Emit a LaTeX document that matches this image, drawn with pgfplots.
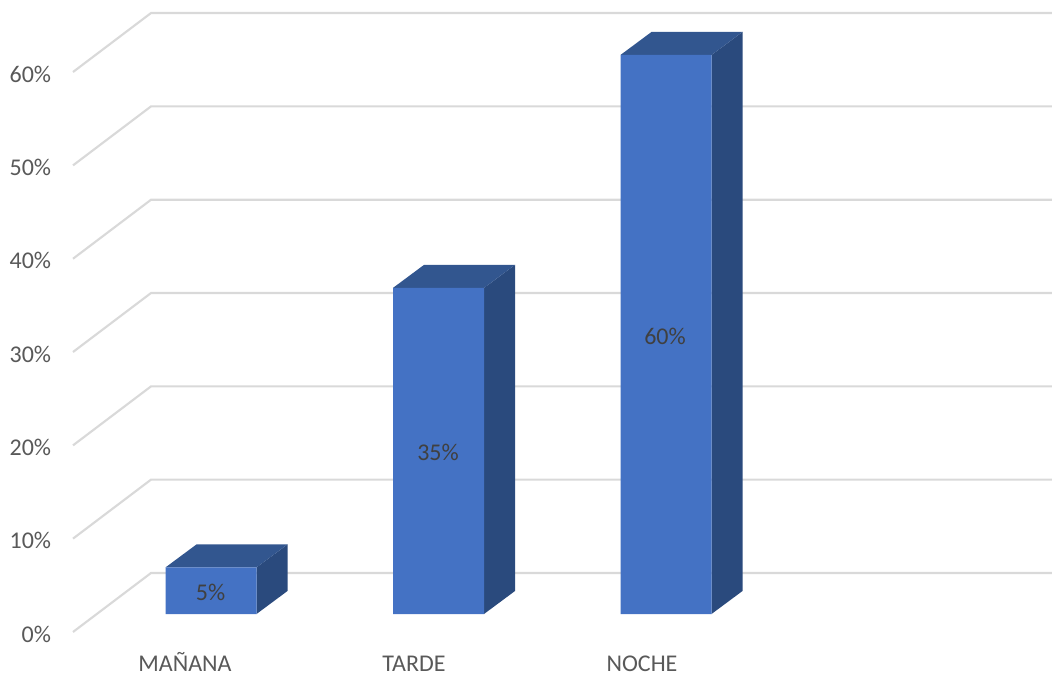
\documentclass[border=0pt]{standalone}
\usepackage{pgfplots}
\pgfplotsset{compat=1.18}
\usepackage{fontspec}
\setmainfont{Carlito}
\definecolor{gridc}{HTML}{D9D9D9}
\definecolor{frontc}{HTML}{4472C4}
\definecolor{topc}{HTML}{32568F}
\definecolor{sidec}{HTML}{2A4A7D}
\definecolor{tickc}{HTML}{595959}
\definecolor{valc}{HTML}{404040}
\begin{document}
\begin{tikzpicture}
\useasboundingbox (0,0) rectangle (789pt,507pt);
\begin{axis}[
	at={(45pt,23.25pt)}, anchor=south west,
	scale only axis,
	width=744pt, height=483.75pt,
	xmin=60, xmax=1052,
	ymin=-3.327, ymax=65.9,
	axis line style={draw=none},
	major tick length=0pt,
	xtick={185,414,642},
	xticklabels={MAÑANA,TARDE,NOCHE},
	ytick={-1.93,8.09,18.1,28.12,38.13,48.15,58.17},
	yticklabels={0\%,10\%,20\%,30\%,40\%,50\%,60\%},
	tick label style={font=\fontsize{18}{20}\selectfont, text=tickc},
	yticklabel style={anchor=east, inner sep=0pt, xshift=-6.5pt, yshift=-1.5pt},
	xticklabel style={anchor=base, inner sep=0pt, yshift=-19.5pt},
	/pgf/number format/assume math mode=true,
]
% walls
\addplot[gridc, line width=1.6pt, forget plot] coordinates {(73,-1.93) (151,4.40) (1052,4.40)};
\addplot[gridc, line width=1.6pt, forget plot] coordinates {(73,8.09) (151,14.42) (1052,14.42)};
\addplot[gridc, line width=1.6pt, forget plot] coordinates {(73,18.1) (151,24.43) (1052,24.43)};
\addplot[gridc, line width=1.6pt, forget plot] coordinates {(73,28.12) (151,34.45) (1052,34.45)};
\addplot[gridc, line width=1.6pt, forget plot] coordinates {(73,38.13) (151,44.46) (1052,44.46)};
\addplot[gridc, line width=1.6pt, forget plot] coordinates {(73,48.15) (151,54.48) (1052,54.48)};
\addplot[gridc, line width=1.6pt, forget plot] coordinates {(73,58.17) (151,64.5) (1052,64.5)};
% side faces
\addplot[fill=sidec, draw=none] coordinates {(256.5,0) (287.5,2.47) (287.5,7.47) (256.5,5)} --cycle;
\addplot[fill=sidec, draw=none] coordinates {(484,0) (515,2.47) (515,37.47) (484,35)} --cycle;
\addplot[fill=sidec, draw=none] coordinates {(711.5,0) (742.5,2.47) (742.5,62.47) (711.5,60)} --cycle;
% top faces
\addplot[fill=topc, draw=none] coordinates {(165.5,5) (196.5,7.47) (287.5,7.47) (256.5,5)} --cycle;
\addplot[fill=topc, draw=none] coordinates {(393,35) (424,37.47) (515,37.47) (484,35)} --cycle;
\addplot[fill=topc, draw=none] coordinates {(620.5,60) (651.5,62.47) (742.5,62.47) (711.5,60)} --cycle;
% front faces
\addplot[ybar, bar width=91, bar shift=0pt, fill=frontc, draw=none] coordinates {(211,5) (438.5,35) (666,60)};
% value labels
\addplot[draw=none, point meta=explicit,
	nodes near coords={\pgfmathprintnumber{\pgfplotspointmeta}\%},
	every node near coord/.style={anchor=center, inner sep=0pt, text=valc, font=\fontsize{18}{20}\selectfont}]
	coordinates {(210.5,2.3) [5] (438,17.3) [35] (665,29.8) [60]};
\end{axis}
\end{tikzpicture}
\end{document}
